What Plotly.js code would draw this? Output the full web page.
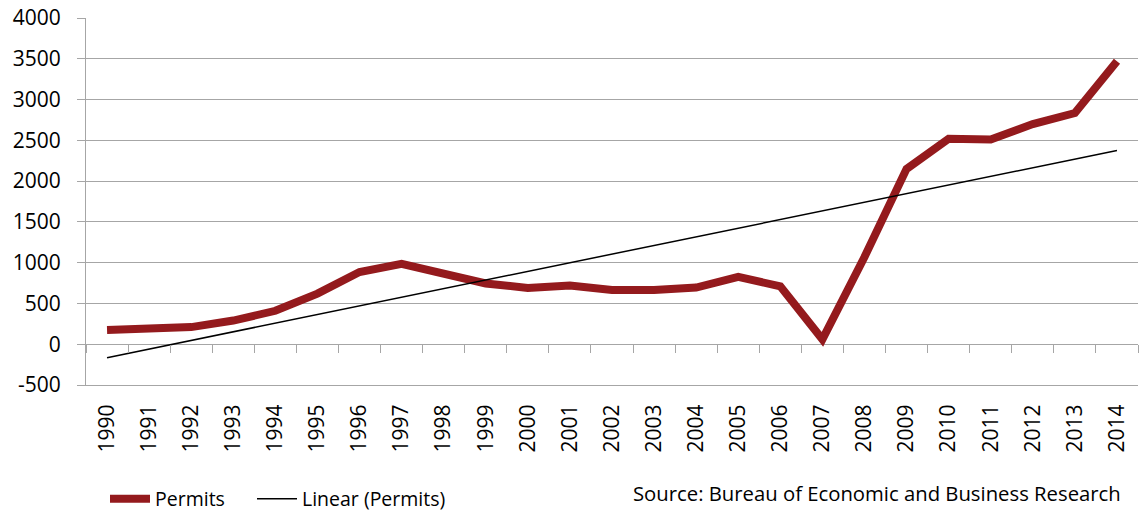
<!DOCTYPE html>
<html>
<head>
<meta charset="utf-8">
<script src="https://cdn.plot.ly/plotly-3.0.1.min.js"></script>
<style>html,body{margin:0;padding:0;background:#fff;}#chart{width:1140px;height:512px;}</style>
</head>
<body>
<div id="chart"></div>
<script>
var years = ['1990','1991','1992','1993','1994','1995','1996','1997','1998','1999','2000','2001','2002','2003','2004','2005','2006','2007','2008','2009','2010','2011','2012','2013','2014'];
var permits = [175,200,210,290,410,620,885,985,855,745,690,720,665,665,695,825,710,60,1070,2150,2520,2510,2700,2835,3470];
var trendYears = ['1990','2014'];
var trendValues = [-165,2375];
var yTicks = [-500,0,500,1000,1500,2000,2500,3000,3500,4000];
var sourceText = 'Source: Bureau of Economic and Business Research';

var W = 1140, H = 512;
var mL = 86, mR = 2, mT = 18, mB = 127;
var plotW = W - mL - mR, plotH = H - mT - mB;
var yMin = -500, yMax = 4000;
var grid = '#a6a6a6';
var font = 'Open Sans, Noto Sans, sans-serif';

var traces = [
  {x: years, y: permits, type: 'scatter', mode: 'lines', name: 'Permits',
   line: {color: '#941a1d', width: 8, shape: 'linear'}, xaxis: 'x', yaxis: 'y', legend: 'legend'},
  {x: trendYears, y: trendValues, type: 'scatter', mode: 'lines', name: 'Linear (Permits)',
   line: {color: '#000000', width: 1.5}, xaxis: 'x2', yaxis: 'y', legend: 'legend2'}
];

function legendAt(px) {
  return {orientation: 'h', x: (px - mL) / plotW, xanchor: 'left',
    y: (mT + plotH - 499) / plotH, yanchor: 'middle',
    font: {family: font, size: 19.5, color: '#000'}, bgcolor: 'rgba(0,0,0,0)',
    itemwidth: 40, tracegroupgap: 0};
}

var layout = {
  width: W, height: H,
  margin: {l: mL, r: mR, t: mT, b: mB, pad: 0, autoexpand: false},
  paper_bgcolor: '#ffffff', plot_bgcolor: '#ffffff',
  font: {family: font, color: '#000000'},
  showlegend: true,
  xaxis: {type: 'category', categoryarray: years, categoryorder: 'array',
    range: [-0.5, years.length - 0.5], showgrid: false, zeroline: false,
    showline: true, linecolor: grid, linewidth: 1, ticks: '',
    tickangle: -90, tickfont: {family: font, size: 21, color: '#000'},
    ticklabelstandoff: 10, fixedrange: true},
  xaxis2: {type: 'category', categoryarray: years, categoryorder: 'array',
    range: [-0.5, years.length - 0.5], overlaying: 'x', anchor: 'free',
    position: (0 - yMin) / (yMax - yMin), side: 'bottom',
    showgrid: false, zeroline: false, showline: false, showticklabels: false,
    ticks: 'outside', tickson: 'boundaries', ticklen: 8, tickwidth: 1, tickcolor: grid},
  yaxis: {range: [yMin, yMax], tickvals: yTicks, ticktext: yTicks.map(String),
    showgrid: true, gridcolor: grid, gridwidth: 1, zeroline: true, zerolinecolor: grid, zerolinewidth: 1,
    showline: true, linecolor: grid, linewidth: 1,
    ticks: 'outside', ticklen: 8, tickwidth: 1, tickcolor: grid,
    tickfont: {family: font, size: 21, color: '#000'}, ticklabelstandoff: 12},
  legend: legendAt(105),
  legend2: legendAt(252),
  annotations: [{text: sourceText, xref: 'paper', yref: 'paper',
    x: (1123 - mL) / plotW, y: (mT + plotH - 493) / plotH, xanchor: 'right', yanchor: 'middle',
    showarrow: false, font: {family: font, size: 20.3, color: '#000'}}]
};

Plotly.newPlot('chart', traces, layout, {displayModeBar: false, staticPlot: true});
</script>
</body>
</html>
